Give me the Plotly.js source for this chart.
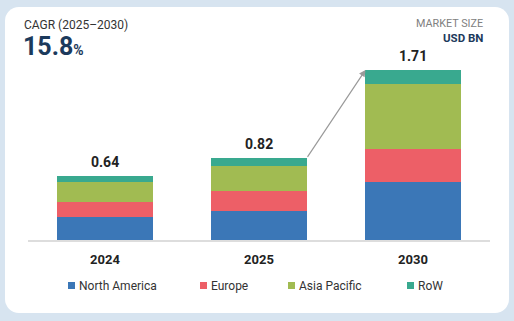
<!DOCTYPE html>
<html>
<head>
<meta charset="utf-8">
<script src="https://cdn.plot.ly/plotly-3.0.1.min.js"></script>
<style>
  html, body { margin:0; padding:0; width:514px; height:321px; overflow:hidden; background:#d7e4f0; }
  #card { position:absolute; left:5px; top:7px; width:504px; height:306px; background:#ffffff; border-radius:14px; }
  #chart { position:absolute; left:0; top:0; width:514px; height:321px; }
</style>
</head>
<body>
<div id="card"></div>
<div id="chart"></div>
<script>
// ---- data ----
const years = ['2024', '2025', '2030'];
const seriesNames = ['North America', 'Europe', 'Asia Pacific', 'RoW'];
const northAmerica = [0.23, 0.295, 0.585];
const europe = [0.155, 0.195, 0.335];
const asiaPacific = [0.195, 0.25, 0.645];
const restOfWorld = [0.06, 0.08, 0.145];
const totals = [0.64, 0.82, 1.71];
const cagrLabel = 'CAGR (2025\u20132030)';
const cagrValue = '15.8';
const unitTop = 'MARKET SIZE';
const unitBottom = 'USD BN';

// ---- style ----
const colors = ['#3b77b7', '#ed5f67', '#a1bb52', '#39a98f'];
const FONT = 'Roboto, "Liberation Sans", Arial, sans-serif';
const barWidth = 0.617;
const M = { l: 28, r: 24, t: 60, b: 81 };
const W = 514, H = 321;
const plotW = W - M.l - M.r, plotH = H - M.t - M.b;
const px = x => (x - M.l) / plotW;          // page px -> paper x
const py = y => (H - M.b - y) / plotH;      // page px -> paper y

const seriesValues = [northAmerica, europe, asiaPacific, restOfWorld];
const traces = seriesValues.map((vals, i) => ({
  type: 'bar',
  x: years,
  y: vals,
  name: seriesNames[i],
  marker: { color: colors[i], line: { width: 0 } },
  hoverinfo: 'skip'
}));

const annotations = [];
// totals (category index positions)
years.forEach((yr, i) => {
  annotations.push({
    x: i, y: totals[i], xref: 'x', yref: 'y',
    text: '<b>' + totals[i].toFixed(2) + '</b>',
    showarrow: false, yanchor: 'bottom', yshift: 4,
    font: { family: FONT, size: 14, color: '#222222' }
  });
});
// growth arrow from 2025 top-right to 2030 top-left
annotations.push({
  x: 2 - barWidth / 2, y: totals[2], xref: 'x', yref: 'y',
  ax: 1 + barWidth / 2, ay: totals[1], axref: 'x', ayref: 'y',
  text: '', showarrow: true, arrowhead: 2, arrowsize: 1.1, arrowwidth: 1.2,
  arrowcolor: '#9a9a9a', standoff: 0, startstandoff: 0
});
// header texts
annotations.push({
  x: px(22), y: py(25), xref: 'paper', yref: 'paper', xanchor: 'left', yanchor: 'middle',
  text: cagrLabel, showarrow: false, font: { family: FONT, size: 12, color: '#333333' }
});
annotations.push({
  x: px(21), y: py(46), xref: 'paper', yref: 'paper', xanchor: 'left', yanchor: 'middle',
  text: '<b>' + cagrValue + '</b><span style="font-size:14px"><b>%</b></span>', showarrow: false,
  font: { family: FONT, size: 25, color: '#1c3a5c' }
});
annotations.push({
  x: px(485), y: py(23), xref: 'paper', yref: 'paper', xanchor: 'right', yanchor: 'middle',
  text: unitTop, showarrow: false, font: { family: FONT, size: 10.8, color: '#808080' }
});
annotations.push({
  x: px(485), y: py(38), xref: 'paper', yref: 'paper', xanchor: 'right', yanchor: 'middle',
  text: '<b>' + unitBottom + '</b>', showarrow: false, font: { family: FONT, size: 11.5, color: '#1c3a5c' }
});

// custom legend
const legendX = [68, 200, 288, 407];
const shapes = [];
seriesNames.forEach((nm, i) => {
  shapes.push({
    type: 'rect', xref: 'paper', yref: 'paper',
    x0: px(legendX[i]), x1: px(legendX[i] + 7), y0: py(289), y1: py(282),
    fillcolor: colors[i], line: { width: 0 }
  });
  annotations.push({
    x: px(legendX[i] + 9), y: py(285.5), xref: 'paper', yref: 'paper', xanchor: 'left', yanchor: 'middle',
    text: nm, showarrow: false, font: { family: FONT, size: 12, color: '#333333' }
  });
});

const layout = {
  width: W, height: H,
  margin: M,
  paper_bgcolor: 'rgba(0,0,0,0)',
  plot_bgcolor: 'rgba(0,0,0,0)',
  barmode: 'stack',
  bargap: 1 - barWidth,
  showlegend: false,
  xaxis: {
    type: 'category', range: [-0.5, 2.5], fixedrange: true,
    showline: true, linecolor: '#dddddd', linewidth: 1.5,
    showgrid: false, zeroline: false, ticks: '', ticklabelstandoff: 7,
    tickfont: { family: FONT, size: 13, color: '#222222', weight: 'bold' }
  },
  yaxis: {
    range: [0, 1.81], visible: false, showgrid: false, zeroline: false, fixedrange: true
  },
  annotations: annotations,
  shapes: shapes
};

Plotly.newPlot('chart', traces, layout, { displayModeBar: false, staticPlot: true });
</script>
</body>
</html>
